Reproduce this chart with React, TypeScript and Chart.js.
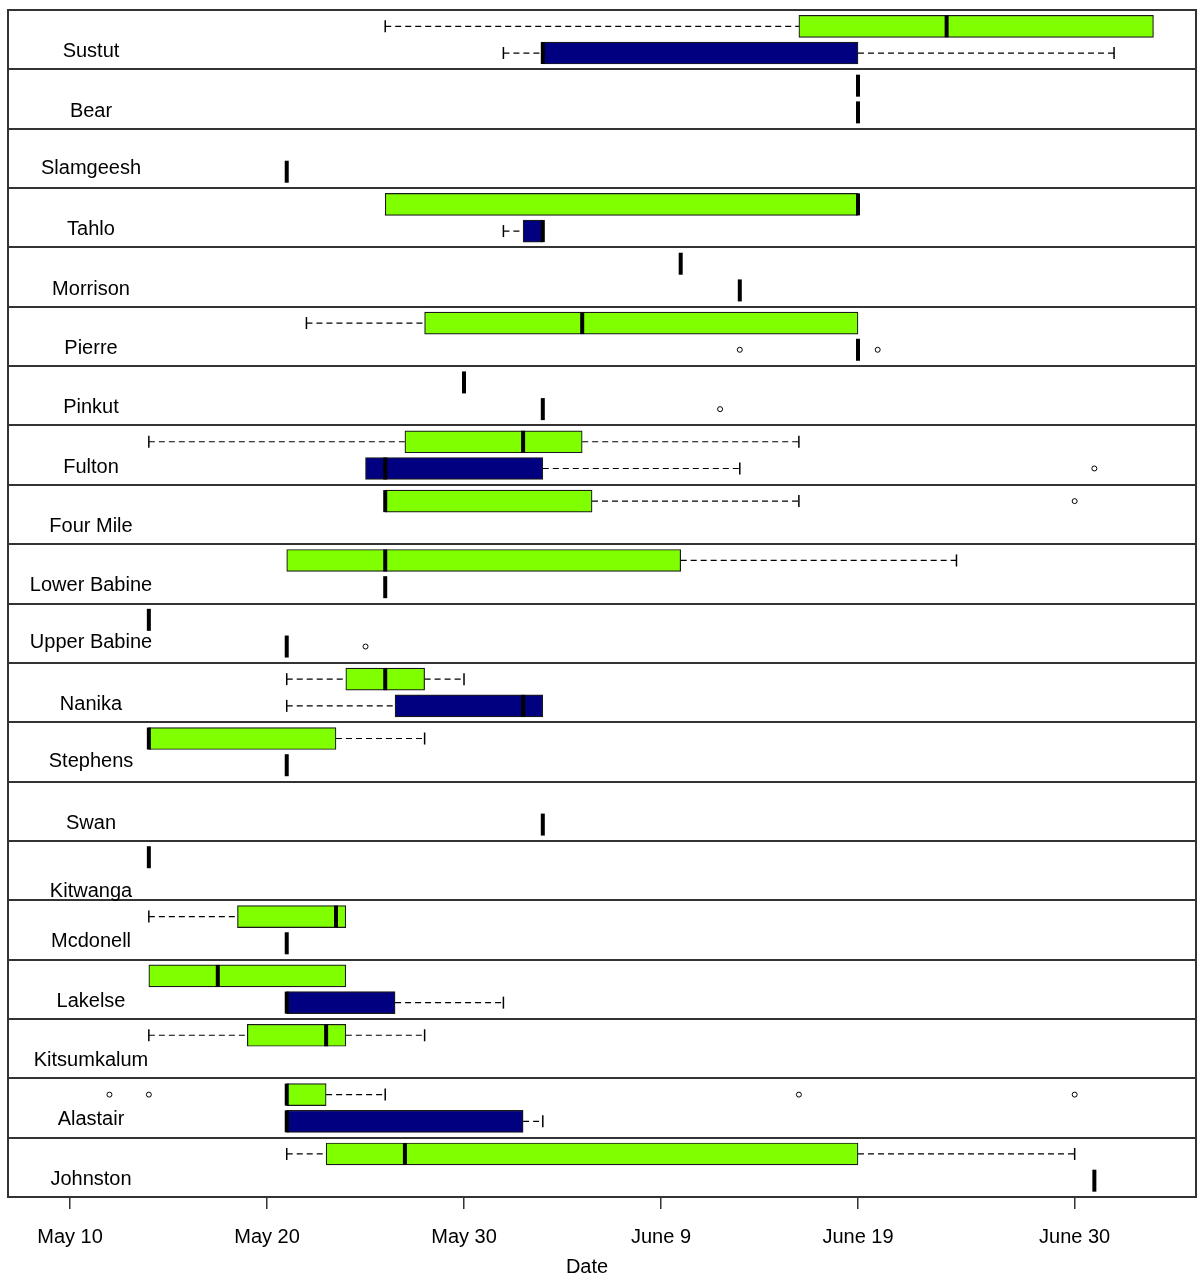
import React, { useEffect, useRef } from 'react';
import { Chart, registerables } from 'chart.js';

Chart.register(...registerables);

// ---------- DATA (days after May 10) ----------
const RIVERS = [
  'Sustut', 'Bear', 'Slamgeesh', 'Tahlo', 'Morrison', 'Pierre', 'Pinkut', 'Fulton',
  'Four Mile', 'Lower Babine', 'Upper Babine', 'Nanika', 'Stephens', 'Swan', 'Kitwanga',
  'Mcdonell', 'Lakelse', 'Kitsumkalum', 'Alastair', 'Johnston',
];

// [lower whisker, Q1, median, Q3, upper whisker]
type Stats = [number, number, number, number, number] | null;

const GREEN_STATS: Stats[] = [
  [16, 37, 44.5, 55, 55],     // Sustut
  [40, 40, 40, 40, 40],       // Bear
  null,                       // Slamgeesh
  [16, 16, 40, 40, 40],       // Tahlo
  [31, 31, 31, 31, 31],       // Morrison
  [12, 18, 26, 40, 40],       // Pierre
  [20, 20, 20, 20, 20],       // Pinkut
  [4, 17, 23, 26, 37],        // Fulton
  [16, 16, 16, 26.5, 37],     // Four Mile
  [11, 11, 16, 31, 45],       // Lower Babine
  [4, 4, 4, 4, 4],            // Upper Babine
  [11, 14, 16, 18, 20],       // Nanika
  [4, 4, 4, 13.5, 18],        // Stephens
  null,                       // Swan
  [4, 4, 4, 4, 4],            // Kitwanga
  [4, 8.5, 13.5, 14, 14],     // Mcdonell
  [4, 4, 7.5, 14, 14],        // Lakelse
  [4, 9, 13, 14, 18],         // Kitsumkalum
  [11, 11, 11, 13, 16],       // Alastair
  [11, 13, 17, 40, 51],       // Johnston
];

const BLUE_STATS: Stats[] = [
  [22, 24, 24, 40, 53],       // Sustut
  [40, 40, 40, 40, 40],       // Bear
  [11, 11, 11, 11, 11],       // Slamgeesh
  [22, 23, 24, 24, 24],       // Tahlo
  [34, 34, 34, 34, 34],       // Morrison
  [40, 40, 40, 40, 40],       // Pierre
  [24, 24, 24, 24, 24],       // Pinkut
  [15, 15, 16, 24, 34],       // Fulton
  null,                       // Four Mile
  [16, 16, 16, 16, 16],       // Lower Babine
  [11, 11, 11, 11, 11],       // Upper Babine
  [11, 16.5, 23, 24, 24],     // Nanika
  [11, 11, 11, 11, 11],       // Stephens
  [24, 24, 24, 24, 24],       // Swan
  null,                       // Kitwanga
  [11, 11, 11, 11, 11],       // Mcdonell
  [11, 11, 11, 16.5, 22],     // Lakelse
  null,                       // Kitsumkalum
  [11, 11, 11, 23, 24],       // Alastair
  [52, 52, 52, 52, 52],       // Johnston
];

const GREEN_OUTLIERS: number[][] = [
  [], [], [], [], [], [], [], [], [51], [], [], [], [], [], [], [], [], [], [2, 4, 37, 51], [],
];
const BLUE_OUTLIERS: number[][] = [
  [], [], [], [], [], [34, 41], [33], [52], [], [], [15], [], [], [], [], [], [], [], [], [],
];

const TICK_DAYS = [0, 10, 20, 30, 40, 51];
const TICK_LABELS = ['May 10', 'May 20', 'May 30', 'June 9', 'June 19', 'June 30'];
const X_TITLE = 'Date';

// ---------- STYLE ----------
const FONT = "'Liberation Sans', Arial, sans-serif";
const GREEN = '#7FFF00';
const BLUE = '#000080';
const LINE = '#333333';
const UPPER_OFF = 0.275;
const LOWER_OFF = 0.725;
const X_MIN = -3.15;
const X_MAX = 57.16;
const LABEL_NUDGE: Record<string, number> = { Kitwanga: 9, Slamgeesh: -2, 'Upper Babine': -3, Stephens: -2 };

function buildDatasets() {
  const boxes: any[] = [];
  const boxColors: string[] = [];
  const medians: any[] = [];
  const staples: any[] = [];
  const whiskers: any[] = [];
  const outliers: any[] = [];
  const groups: [Stats[], number[][], number, string][] = [
    [GREEN_STATS, GREEN_OUTLIERS, UPPER_OFF, GREEN],
    [BLUE_STATS, BLUE_OUTLIERS, LOWER_OFF, BLUE],
  ];
  RIVERS.forEach((_, i) => {
    groups.forEach(([stats, outs, off, color]) => {
      const y = i + off;
      const s = stats[i];
      if (s) {
        boxes.push({ x: [s[1], s[3]], y });
        boxColors.push(color);
        medians.push({ x: s[2], y });
        if (s[0] < s[1]) {
          whiskers.push({ x: s[0], y }, { x: s[1], y }, { x: s[1], y: null });
          staples.push({ x: s[0], y });
        }
        if (s[4] > s[3]) {
          whiskers.push({ x: s[3], y }, { x: s[4], y }, { x: s[4], y: null });
          staples.push({ x: s[4], y });
        }
      }
      outs[i].forEach((v) => outliers.push({ x: v, y }));
    });
  });
  return [
    {
      type: 'scatter', label: 'median', data: medians, order: 0,
      pointStyle: 'line', rotation: 90, pointRadius: 11, pointBorderWidth: 4,
      borderColor: '#000', backgroundColor: '#000', showLine: false,
    },
    {
      type: 'scatter', label: 'outliers', data: outliers, order: 1,
      pointStyle: 'circle', pointRadius: 2.5, pointBorderWidth: 1,
      borderColor: '#000', backgroundColor: '#fff', showLine: false,
    },
    {
      type: 'scatter', label: 'staples', data: staples, order: 2,
      pointStyle: 'line', rotation: 90, pointRadius: 6, pointBorderWidth: 1.5,
      borderColor: '#000', backgroundColor: '#000', showLine: false,
    },
    {
      type: 'bar', label: 'boxes', data: boxes, order: 3, indexAxis: 'y',
      backgroundColor: boxColors, borderColor: '#1a1a1a', borderWidth: 1.2,
      borderSkipped: false, barThickness: 22,
    },
    {
      type: 'line', label: 'whiskers', data: whiskers, order: 4,
      borderColor: '#000', borderWidth: 1.2, borderDash: [6, 4], pointRadius: 0,
      spanGaps: false, fill: false, tension: 0,
    },
  ];
}

const decorPlugin = {
  id: 'decor',
  afterDraw(chart: any) {
    const { ctx, chartArea: a, scales } = chart;
    const y = scales.y;
    ctx.save();
    ctx.strokeStyle = LINE;
    ctx.lineWidth = 2;
    ctx.strokeRect(a.left, a.top, a.right - a.left, a.bottom - a.top);
    ctx.fillStyle = '#000';
    ctx.font = `20px ${FONT}`;
    ctx.textAlign = 'center';
    ctx.textBaseline = 'middle';
    RIVERS.forEach((name, i) => {
      const py = y.getPixelForValue(i + 0.5) + 12 + (LABEL_NUDGE[name] || 0);
      ctx.fillText(name, a.left + 83, py);
    });
    ctx.fillText(X_TITLE, (a.left + a.right) / 2 - 15, a.bottom + 70);
    ctx.restore();
  },
};

export default function App() {
  const ref = useRef<HTMLCanvasElement>(null);
  useEffect(() => {
    document.body.style.margin = '0';
    const chart = new Chart(ref.current as HTMLCanvasElement, {
      type: 'scatter',
      data: { datasets: buildDatasets() as any },
      options: {
        responsive: false,
        animation: false,
        devicePixelRatio: 1,
        layout: { autoPadding: false, padding: { left: 8, right: 1, top: 10, bottom: 0 } },
        plugins: { legend: { display: false }, tooltip: { enabled: false } },
        scales: {
          x: {
            type: 'linear',
            min: X_MIN,
            max: X_MAX,
            offset: false,
            afterBuildTicks: (s: any) => { s.ticks = TICK_DAYS.map((v) => ({ value: v })); },
            afterFit: (s: any) => { s.height = 81; s.paddingLeft = 0; s.paddingRight = 0; },
            ticks: {
              autoSkip: false, maxRotation: 0, padding: 16, color: '#000',
              font: { family: FONT, size: 20 },
              callback: (v: any) => TICK_LABELS[TICK_DAYS.indexOf(Number(v))] ?? '',
            },
            grid: { drawOnChartArea: false, drawTicks: true, tickLength: 12, color: LINE, lineWidth: 1.5 },
            border: { display: false },
          },
          y: {
            type: 'linear',
            min: 0,
            max: RIVERS.length,
            reverse: true,
            offset: false,
            afterBuildTicks: (s: any) => { s.ticks = RIVERS.map((_, i) => ({ value: i })).concat([{ value: RIVERS.length }]); },
            afterFit: (s: any) => { s.width = 0; s.paddingTop = 0; s.paddingBottom = 0; },
            ticks: { display: false },
            grid: { offset: false, drawTicks: false, color: LINE, lineWidth: 2 },
            border: { display: false },
          },
        },
      } as any,
      plugins: [decorPlugin],
    });
    return () => chart.destroy();
  }, []);
  return (
    <div style={{ width: 1197, height: 1278 }}>
      <canvas ref={ref} width={1197} height={1278} style={{ display: 'block' }} />
    </div>
  );
}
